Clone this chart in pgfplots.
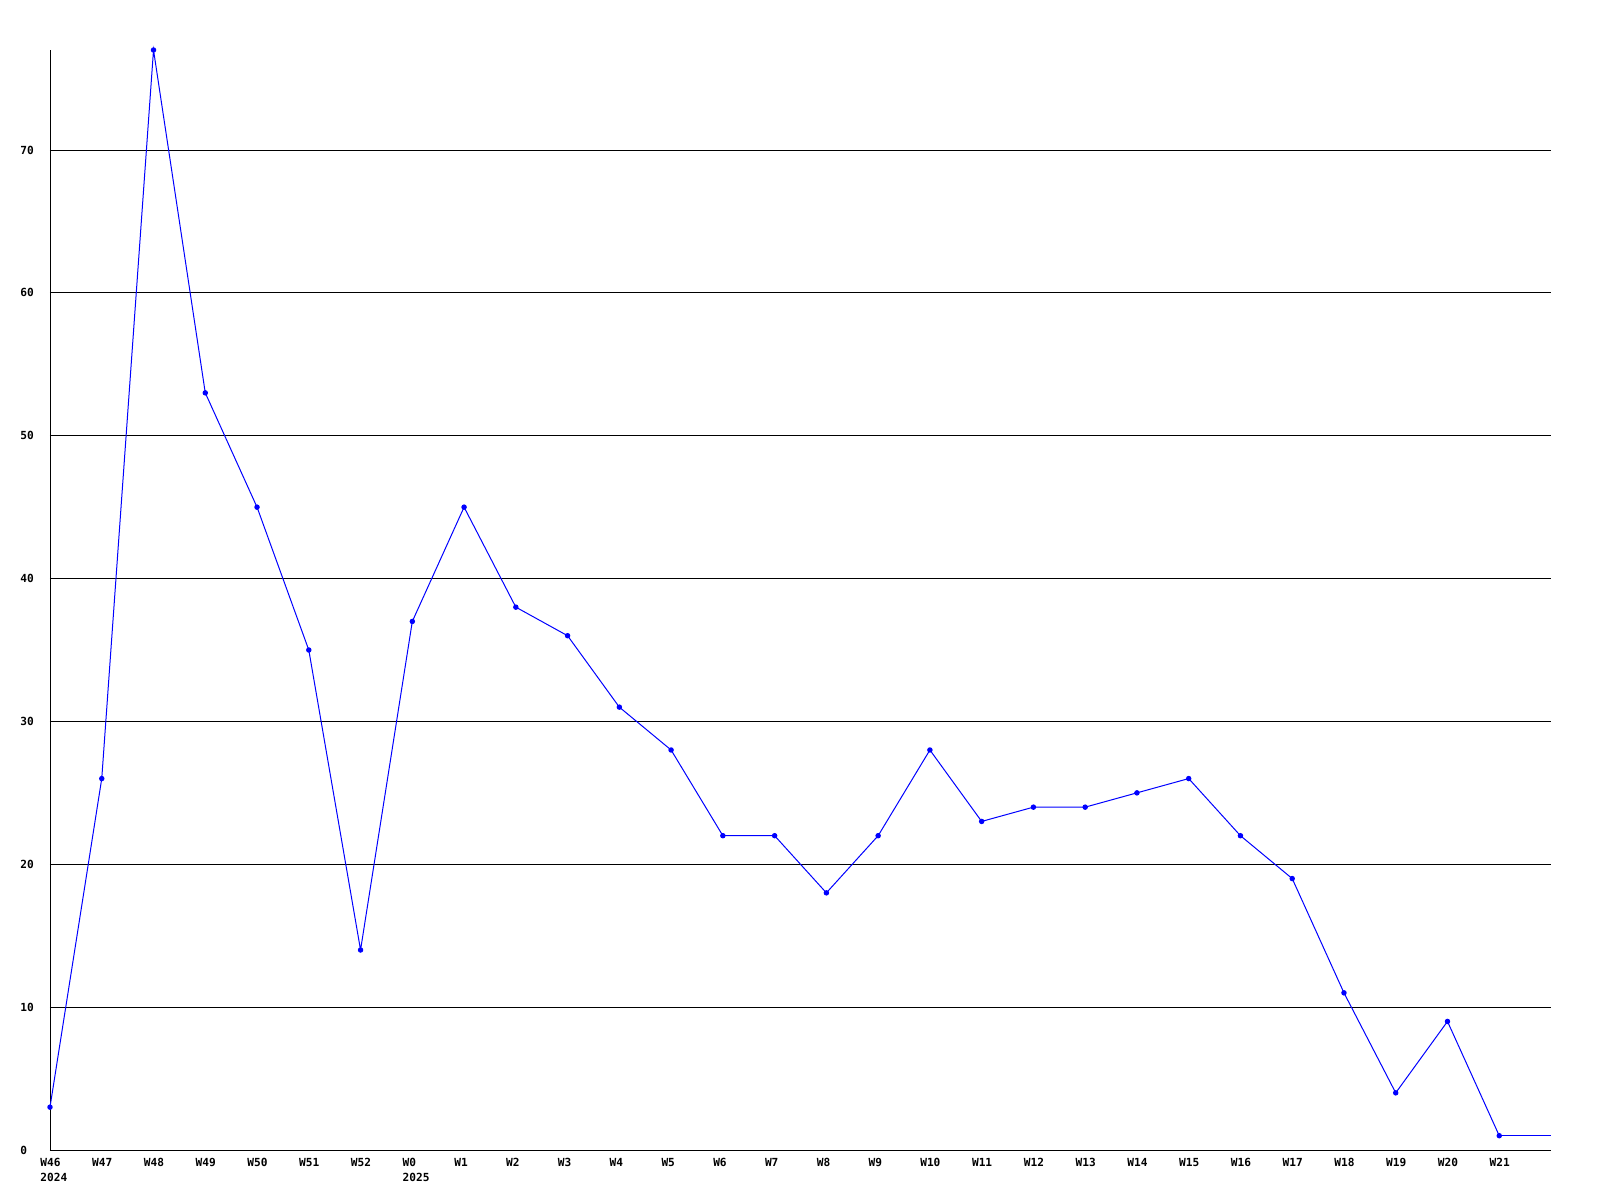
\documentclass[border=0pt]{standalone}
\usepackage{pgfplots}
\pgfplotsset{compat=1.18}
\usepackage{fontspec}
\setmainfont{DejaVu Sans Mono}
\setmonofont{DejaVu Sans Mono}
\begin{document}
\begin{tikzpicture}
\path[use as bounding box] (0,0) rectangle (800bp,600bp);
\begin{axis}[
  at={(25bp,25bp)}, anchor=south west,
  scale only axis,
  width=750.5bp, height=550bp,
  xmin=0, xmax=29, ymin=0, ymax=77,
  axis x line=bottom, axis y line=left,
  axis line style={-, black, line width=0.5bp},
  major tick length=0pt,
  xtick={0,...,28},
  xticklabels={{W46\\2024},W47,W48,W49,W50,W51,W52,{W0\\2025},W1,W2,W3,W4,W5,W6,W7,W8,W9,W10,W11,W12,W13,W14,W15,W16,W17,W18,W19,W20,W21},
  ytick={0,10,...,70},
  ymajorgrids,
  grid style={black, line width=0.5bp},
  /pgf/number format/assume math mode=true,
  ticklabel style={font=\fontsize{5.6}{7.5}\selectfont\bfseries, inner sep=0pt},
  xticklabel style={align=left, anchor=north west, xshift=-5bp, yshift=-4bp},
  yticklabel style={anchor=west, xshift=-15bp},
  clip=false,
]
\addplot[color={rgb,255:red,0;green,0;blue,255}, line width=0.5bp, mark=*, mark size=1.1bp] coordinates {
(0,3) (1,26) (2,77) (3,53) (4,45) (5,35) (6,14) (7,37) (8,45) (9,38)
(10,36) (11,31) (12,28) (13,22) (14,22) (15,18) (16,22) (17,28) (18,23) (19,24)
(20,24) (21,25) (22,26) (23,22) (24,19) (25,11) (26,4) (27,9) (28,1)
};
\addplot[color={rgb,255:red,0;green,0;blue,255}, line width=0.5bp, no marks] coordinates {(28,1) (29,1)};
\end{axis}
\end{tikzpicture}
\end{document}
